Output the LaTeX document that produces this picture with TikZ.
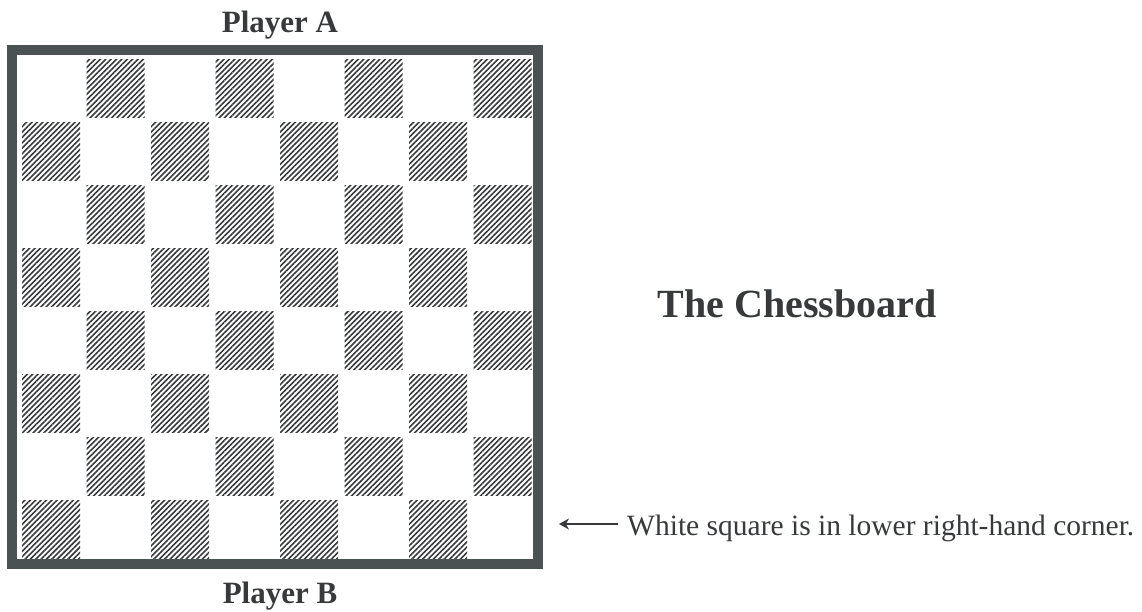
\documentclass[tikz,border=0pt]{standalone}
\usepackage{fontspec}
\setmainfont{Liberation Serif}
\usepackage{tikz}
\usetikzlibrary{positioning,arrows.meta,calc,patterns.meta}
\usepackage{xcolor}
\definecolor{frame}{HTML}{4B5254}
\definecolor{ink}{HTML}{37393B}

\begin{document}
\begin{tikzpicture}[x=1pt,y=-1pt,>={Stealth[length=10pt,width=11pt]},
  every node/.style={text=ink,inner sep=0pt},
  player/.style={font=\fontsize{31}{31}\selectfont\bfseries,anchor=base},
  darksq/.style={pattern={Lines[angle=45,distance=3.8pt,line width=1.6pt]},pattern color=ink}]
\useasboundingbox (0,0) rectangle (1142,611);
% dark squares, inner board starts at (17,55)
\foreach \r in {0,...,7}
  \foreach \c in {0,...,7}{
    \pgfmathtruncatemacro{\odd}{mod(\r+\c,2)}
    \ifnum\odd=1
      \fill[darksq] ({17+\c*64.5+5},{55+\r*63+4}) rectangle ++(58,58);
    \fi
  }
\node (board) [draw=frame,line width=10pt,minimum width=526pt,minimum height=514pt] at (275,307) {};
\node (pa) [player] at (280,32) {Player A};
\node (pb) [player] at (280,603) {Player B};
\node (title) [font=\fontsize{40}{40}\selectfont\bfseries,anchor=base] at (797,317) {The Chessboard};
\node (note) [font=\fontsize{29.5}{29.5}\selectfont,anchor=base west] at (627,535) {White square is in lower right-hand corner.};
\coordinate (tip) at (559,524);
\draw[->,ink,line width=1.4pt] ($(note.west |- tip)+(-9,0)$) -- (tip);
\end{tikzpicture}
\end{document}
